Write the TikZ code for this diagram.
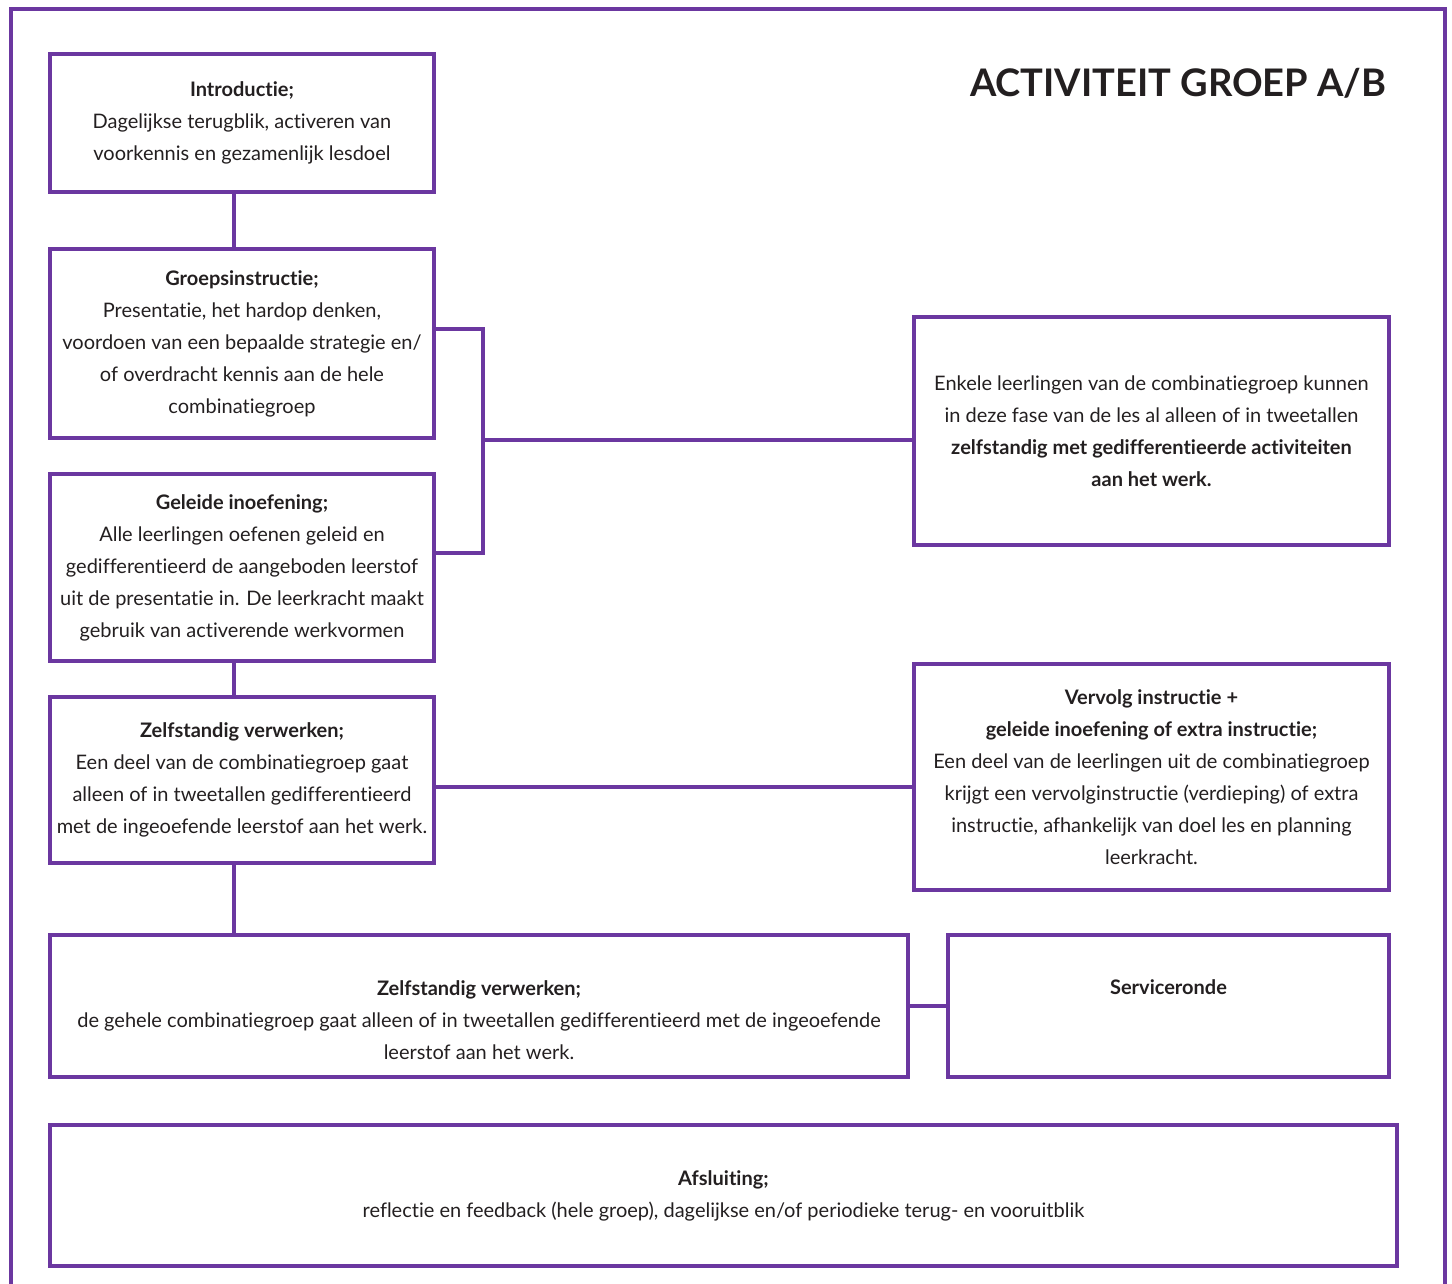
\documentclass[tikz,border=0pt]{standalone}
\usepackage{fontspec}
\usepackage{xcolor}
\setmainfont{Lato}[Ligatures=NoCommon]
\definecolor{paars}{RGB}{107,55,160}
\definecolor{inkt}{RGB}{35,31,32}

\begin{document}
\begin{tikzpicture}[x=1pt, y=-1pt,
  box/.style={draw=paars, line width=3.2pt, align=center, inner sep=0pt, text=inkt,
    font=\fontsize{20}{32}\selectfont},
  link/.style={draw=paars, line width=3.2pt}]
  \useasboundingbox (0,0) rectangle (1452,1284);

  % Outer frame (open at the bottom)
  \draw[link] (11,1284) -- (11,9) -- (1445,9) -- (1445,1284);

  % Title
  \node[anchor=east, text=inkt, font=\fontsize{38}{40}\selectfont\bfseries] (titel) at (1390,83) {ACTIVITEIT GROEP A/B};

  % Left column
  \node[box, minimum width=384pt, minimum height=138pt] (intro) at (242,123)
    {\textbf{Introductie;}\\Dagelijkse terugblik, activeren van\\voorkennis en gezamenlijk lesdoel};
  \node[box, minimum width=384pt, minimum height=189pt] (groeps) at (242,343.5)
    {\textbf{Groepsinstructie;}\\Presentatie, het hardop denken,\\voordoen van een bepaalde strategie en/\\of overdracht kennis aan de hele\\combinatiegroep};
  \node[box, minimum width=384pt, minimum height=187pt] (geleide) at (242,567.5)
    {\textbf{Geleide inoefening;}\\Alle leerlingen oefenen geleid en\\gedifferentieerd de aangeboden leerstof\\uit de presentatie in. De leerkracht maakt\\gebruik van activerende werkvormen};
  \node[box, minimum width=384pt, minimum height=166pt] (zelfst) at (242,780)
    {\textbf{Zelfstandig verwerken;}\\Een deel van de combinatiegroep gaat\\alleen of in tweetallen gedifferentieerd\\met de ingeoefende leerstof aan het werk.};

  % Right column
  \node[box, minimum width=475pt, minimum height=228pt] (enkele) at (1151.5,431)
    {Enkele leerlingen van de combinatiegroep kunnen\\in deze fase van de les al alleen of in tweetallen\\\textbf{zelfstandig met gedifferentieerde activiteiten}\\\textbf{aan het werk.}};
  \node[box, minimum width=475pt, minimum height=226pt] (vervolg) at (1151.5,777)
    {\textbf{Vervolg instructie +}\\\textbf{geleide inoefening of extra instructie;}\\Een deel van de leerlingen uit de combinatiegroep\\krijgt een vervolginstructie (verdieping) of extra\\instructie, afhankelijk van doel les en planning\\leerkracht.};

  % Bottom rows
  \node[box, minimum width=858pt, minimum height=142pt] (geheel) at (479,1006)
    {\rule{0pt}{44pt}\textbf{Zelfstandig verwerken;}\\de gehele combinatiegroep gaat alleen of in tweetallen gedifferentieerd met de ingeoefende\\leerstof aan het werk.};
  \node[box, minimum width=441pt, minimum height=142pt,
    label={[anchor=center, yshift=-54pt, text=inkt, font=\fontsize{20}{32}\selectfont\bfseries]north:Serviceronde}] (service) at (1168.5,1006) {};
  \node[box, minimum width=1347pt, minimum height=141pt] (afsluit) at (723.5,1195.5)
    {\textbf{Afsluiting;}\\reflectie en feedback (hele groep), dagelijkse en/of periodieke terug- en vooruitblik};

  % Connectors
  \draw[link] ([xshift=-8pt]intro.south) -- ([xshift=-8pt]groeps.north);
  \coordinate (brk) at (483,440);
  \draw[link] ([yshift=14.5pt]groeps.east) -| (brk) |- ([yshift=14.5pt]geleide.east);
  \draw[link] (brk) -- (brk -| enkele.west);
  \draw[link] ([xshift=-8pt]geleide.south) -- ([xshift=-8pt]zelfst.north);
  \draw[link] ([yshift=-7pt]zelfst.east) -- ([yshift=-7pt]zelfst.east -| vervolg.west);
  \draw[link] ([xshift=-8pt]zelfst.south) -- ([xshift=-245pt]geheel.north);
  \draw[link] (geheel.east) -- (service.west);
\end{tikzpicture}
\end{document}
